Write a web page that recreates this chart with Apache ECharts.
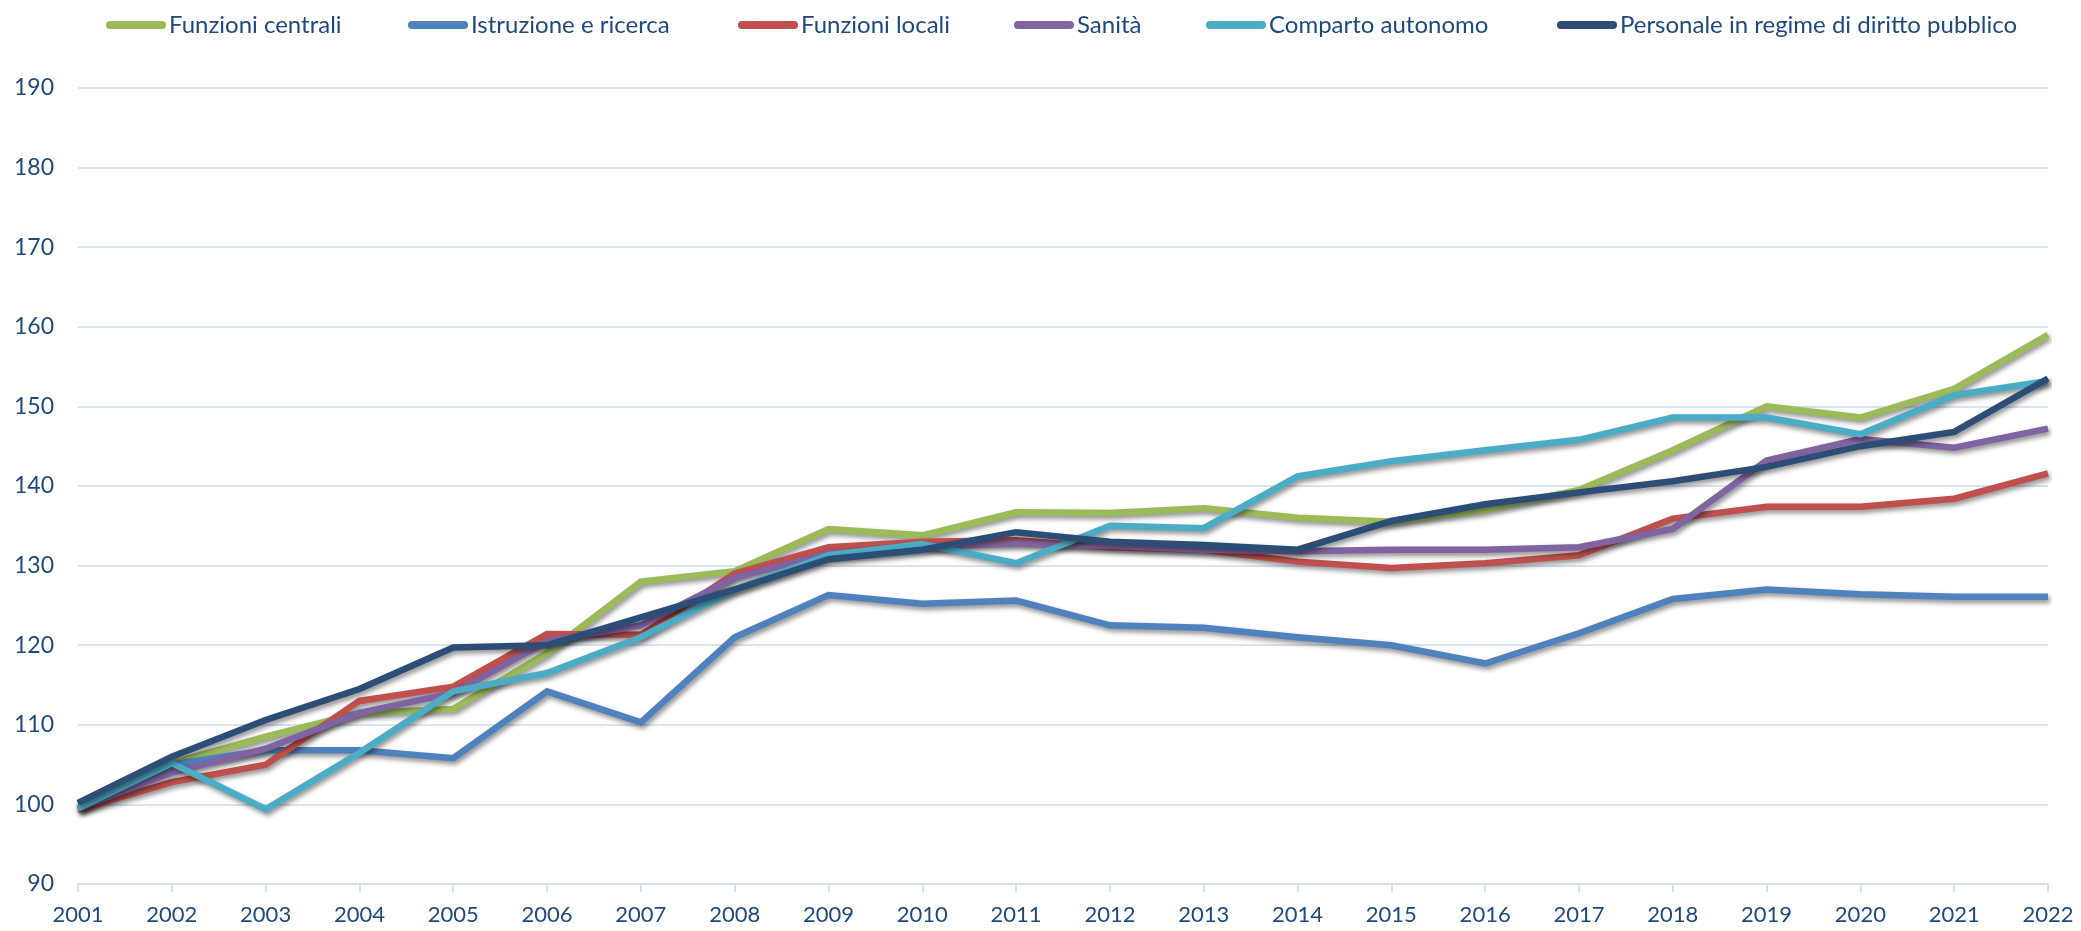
<!DOCTYPE html>
<html>
<head>
<meta charset="utf-8">
<script src="https://cdn.jsdelivr.net/npm/echarts@6/dist/echarts.min.js"></script>
<style>
html,body{margin:0;padding:0;background:#fff;}
#c{width:2081px;height:931px;}
</style>
</head>
<body>
<div id="c"></div>
<script>
var years = ['2001','2002','2003','2004','2005','2006','2007','2008','2009','2010','2011','2012','2013','2014','2015','2016','2017','2018','2019','2020','2021','2022'];
var yTicks = [90,100,110,120,130,140,150,160,170,180,190];
var seriesNames = ['Funzioni centrali','Istruzione e ricerca','Funzioni locali','Sanità','Comparto autonomo','Personale in regime di diritto pubblico'];

var funzioniCentrali = [100,105.2,108.5,111.5,112,119,128,129.3,134.6,133.8,136.7,136.6,137.2,136,135.5,137,139.5,144.5,150,148.6,152.2,159];
var istruzioneRicerca = [99.5,105,106.8,106.8,105.8,114.2,110.3,121,126.3,125.2,125.6,122.5,122.2,121,120,117.7,121.5,125.8,127,126.4,126.1,126.1];
var funzioniLocali = [99.3,102.8,105,113,114.8,121.4,121.3,129,132.3,133,133.2,132.3,132,130.5,129.7,130.3,131.3,135.9,137.4,137.4,138.4,141.6];
var sanita = [99.5,104,107,111.5,114,120.5,122.5,128.5,131.5,132.3,132.8,132.5,132,131.8,132,132,132.3,134.6,143.2,145.9,144.8,147.2];
var compartoAutonomo = [99.5,105.2,99.4,106.5,114.2,116.5,121,127,131.3,132.7,130.3,135,134.7,141.2,143.1,144.5,145.8,148.6,148.6,146.5,151.4,153.2];
var personale = [100.2,106,110.6,114.5,119.7,120,123.5,127,130.8,132,134.2,133,132.6,132,135.6,137.7,139.2,140.6,142.4,145,146.8,153.5];

var allData = [funzioniCentrali, istruzioneRicerca, funzioniLocali, sanita, compartoAutonomo, personale];
var colors = ['#9BBB59','#4F81BD','#C0504D','#8064A2','#4BACC6','#2C4D75'];
var legendLefts = [101, 403, 733, 1009, 1201, 1552];

var textColor = '#1F497D';
var capsule = 'path://M4,0 L56,0 A4,4 0 0 1 56,8 L4,8 A4,4 0 0 1 4,0 Z';

var legends = seriesNames.map(function(n, i){
  return {
    data: [n],
    left: legendLefts[i],
    top: 8,
    icon: capsule,
    itemWidth: 60,
    itemHeight: 8,
    itemGap: 4,
    selectedMode: false,
    textStyle: {color: textColor, fontFamily: 'Lato', fontSize: 24, padding: [0,0,0,-2]}
  };
});

var series = seriesNames.map(function(n, i){
  return {
    name: n,
    type: 'line',
    data: allData[i],
    symbol: 'none',
    smooth: false,
    color: colors[i],
    lineStyle: {width: 6.5, color: colors[i], shadowColor: 'rgba(0,0,0,0.45)', shadowBlur: 5, shadowOffsetX: 2, shadowOffsetY: 3, cap: 'butt', join: 'miter'},
    emphasis: {disabled: true},
    animation: false
  };
});

var chart = echarts.init(document.getElementById('c'));
chart.setOption({
  animation: false,
  backgroundColor: '#fff',
  legend: legends,
  grid: {left: 78, right: 33, top: 88, bottom: 47, containLabel: false},
  xAxis: {
    type: 'category',
    data: years,
    boundaryGap: false,
    axisLine: {show: true, lineStyle: {color: '#D3E0F1', width: 2}},
    axisTick: {show: true, alignWithLabel: true, length: 8, lineStyle: {color: '#D3E0F1', width: 2}},
    axisLabel: {color: textColor, fontFamily: 'Lato', fontSize: 22, margin: 20, interval: 0}
  },
  yAxis: {
    type: 'value',
    min: yTicks[0],
    max: yTicks[yTicks.length-1],
    interval: 10,
    axisLine: {show: false},
    axisTick: {show: false},
    splitLine: {show: true, lineStyle: {color: '#D9E4F3', width: 2}},
    axisLabel: {color: textColor, fontFamily: 'Lato', fontSize: 23, margin: 24}
  },
  series: series
});
</script>
</body>
</html>
